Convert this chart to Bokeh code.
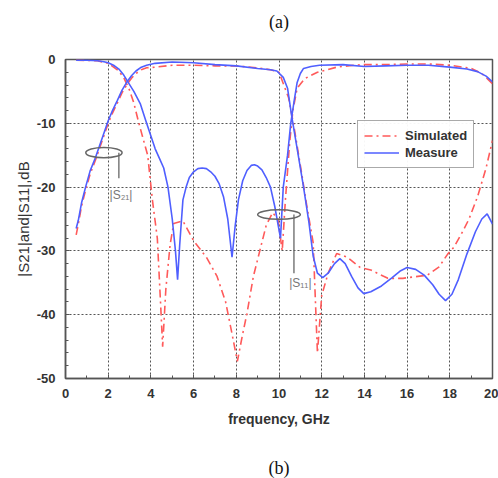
from bokeh.plotting import figure
from bokeh.models import Range1d, Legend, LegendItem, FixedTicker, Title
from bokeh.core.properties import value
from bokeh.embed import file_html
from bokeh.resources import INLINE

# ---- data ----
# |S21| measured
s21_meas_f = [0.5, 0.6, 0.75, 0.94, 1.15, 1.4, 1.7, 2.0, 2.2, 2.43, 2.65, 2.9, 3.1, 3.3, 3.55, 3.8, 4.2,
              5.0, 6.0, 7.0, 8.0, 9.0, 9.6, 9.9, 10.2, 10.4, 10.6, 10.9, 11.15, 11.4, 11.6, 11.8,
              12.05, 12.3, 12.6, 12.85, 13.1, 13.4, 13.7, 13.97, 14.3, 14.8, 15.3, 15.7, 16.0, 16.4,
              16.8, 17.2, 17.5, 17.8, 18.1, 18.4, 18.8, 19.2, 19.5, 19.75, 20.0]
s21_meas_db = [-26.5, -25.2, -22.5, -20.0, -17.5, -15.4, -12.5, -9.6, -8.0, -6.4, -4.8, -3.4, -2.5, -1.8, -1.2, -0.9, -0.6,
               -0.4, -0.5, -0.8, -1.0, -1.4, -1.6, -1.8, -2.8, -4.5, -9.0, -15.0, -20.0, -25.5, -30.8, -33.5,
               -34.2, -33.5, -32.0, -31.2, -32.0, -34.0, -35.8, -36.7, -36.4, -35.5, -34.2, -33.1, -32.6, -32.9,
               -33.8, -35.3, -36.8, -37.8, -36.8, -34.5, -30.5, -27.0, -25.0, -24.2, -25.8]
# |S21| simulated
s21_sim_f = [0.5, 0.6, 0.75, 0.94, 1.15, 1.4, 1.7, 2.0, 2.2, 2.43, 2.65, 2.9, 3.1, 3.3, 3.55, 3.8, 4.2,
             5.0, 6.0, 7.0, 8.0, 9.0, 9.6, 10.0, 10.45, 10.7, 11.0, 11.3, 11.6, 11.8, 12.0, 12.3, 12.7,
             13.2, 13.8, 14.3, 15.1, 15.8, 16.95, 17.5, 17.9, 18.2, 18.6, 18.9, 19.3, 19.7, 20.0]
s21_sim_db = [-27.5, -25.8, -23.0, -20.5, -18.0, -15.8, -12.9, -10.0, -8.4, -6.8, -5.2, -3.8, -2.9, -2.2, -1.6, -1.3, -1.2,
              -0.9, -0.9, -1.0, -1.0, -1.3, -1.6, -2.0, -6.0, -10.5, -16.6, -22.9, -28.7, -46.0, -37.0, -33.5, -30.4,
              -31.0, -32.6, -33.0, -34.3, -34.3, -33.8, -32.5, -30.5, -29.4, -27.0, -25.0, -21.5, -17.0, -12.7]
# |S11| measured
s11_meas_f = [0.5, 1.0, 1.5, 1.8, 2.0, 2.25, 2.5, 2.7, 2.9, 3.2, 3.5, 3.75, 4.0, 4.2, 4.4, 4.6, 4.8, 5.0,
              5.15, 5.25, 5.35, 5.5, 5.65, 5.8, 6.0, 6.2, 6.4, 6.6, 6.8, 7.0, 7.2, 7.4, 7.6, 7.8,
              7.95, 8.1, 8.3, 8.5, 8.7, 8.85, 9.0, 9.2, 9.4, 9.6, 9.8, 10.07, 10.2, 10.4, 10.55,
              10.7, 10.85, 11.0, 11.15, 11.5, 11.9, 13.0, 14.0, 15.0, 16.0, 17.0, 18.0, 18.8, 19.3, 19.7, 20.0]
s11_meas_db = [-0.1, -0.1, -0.2, -0.35, -0.5, -0.9, -1.5, -2.3, -3.4, -5.0, -6.9, -9.5, -12.0, -14.0, -15.5, -17.0, -20.0, -25.0,
               -30.0, -34.5, -29.0, -22.0, -20.0, -18.5, -17.6, -17.1, -17.0, -17.1, -17.6, -18.3, -19.5, -21.5, -25.0, -31.0,
               -26.0, -22.0, -19.0, -17.4, -16.6, -16.5, -16.7, -17.3, -18.5, -20.0, -23.0, -28.0, -20.0, -15.0, -10.0,
               -6.7, -3.6, -2.2, -1.4, -1.1, -0.9, -0.8, -1.1, -1.0, -0.9, -0.9, -1.2, -1.5, -1.9, -2.6, -3.5]
# |S11| simulated
s11_sim_f = [0.5, 1.5, 2.0, 2.5, 2.75, 3.0, 3.2, 3.4, 3.6, 3.85, 4.07, 4.3, 4.45, 4.55, 4.7, 4.9, 5.07, 5.5,
             6.0, 6.6, 7.1, 7.5, 7.8, 8.05, 8.3, 8.5, 8.8, 9.1, 9.4, 9.7, 9.95, 10.15, 10.3, 10.5, 10.65,
             10.85, 11.2, 11.8, 12.7, 13.5, 14.0, 15.0, 16.0, 17.0, 18.0, 19.0, 19.5, 20.0]
s11_sim_db = [-0.1, -0.2, -0.6, -1.8, -3.0, -4.8, -6.8, -9.5, -12.0, -15.0, -22.0, -28.0, -38.0, -45.0, -36.0, -29.0, -25.7, -25.3,
              -28.4, -31.0, -34.0, -38.0, -43.0, -47.3, -43.0, -39.8, -34.0, -30.0, -26.0, -24.0, -25.0, -30.0, -22.0, -13.0, -8.0,
              -4.5, -3.0, -2.0, -1.2, -0.9, -0.8, -0.8, -0.7, -0.7, -0.9, -1.4, -2.2, -3.8]

x_ticks = [0, 2, 4, 6, 8, 10, 12, 14, 16, 18, 20]
y_ticks = [-50, -40, -30, -20, -10, 0]
y_tick_labels = ["-50", "-40", "-30", "-20", "-10", "0"]
legend_labels = ["Simulated", "Measure"]

# annotation marks (ellipses + leader lines)
ell_x = [1.8, 10.0]
ell_y = [-14.6, -24.3]
ell_w = [1.7, 2.0]
ell_h = [1.6, 1.5]
lead_x = [2.5, 10.7]
lead_y0 = [-14.6, -24.3]
lead_y1 = [-18.6, -33.5]
ann_text = ["|S₂₁|", "|S₁₁|"]
ann_x = [2.6, 11.0]
ann_y = [-21.3, -35.0]

RED = "#ff5a5a"
BLUE = "#4f5fff"
FONT = "Liberation Sans"

p = figure(width=498, height=478, output_backend="svg", toolbar_location=None,
           x_range=Range1d(0, 20), y_range=Range1d(-50, 0),
           min_border_left=65, min_border_right=6, min_border_top=59, min_border_bottom=100)
p.background_fill_color = "white"
p.border_fill_color = "white"
p.outline_line_color = "#555555"
p.outline_line_width = 1.5

p.title.text = "(a)\n"
p.title.align = "center"
p.title.vertical_align = "top"
p.title.text_font = "Liberation Serif"
p.title.text_font_size = "18px"
p.title.text_font_style = "normal"
p.title.text_color = "#111111"
p.title.text_line_height = 1.3
p.title.standoff = 0

# grid
for g in (p.xgrid, p.ygrid):
    g.grid_line_color = "#555555"
    g.grid_line_dash = "2 2"
    g.grid_line_width = 1
p.xaxis.ticker = FixedTicker(ticks=x_ticks, minor_ticks=list(range(0, 21)))
p.yaxis.ticker = FixedTicker(ticks=y_ticks, minor_ticks=list(range(-50, 1, 2)))
p.yaxis.major_label_overrides = dict(zip(y_ticks, y_tick_labels))

for ax in (p.xaxis, p.yaxis):
    ax.major_tick_in = 4
    ax.major_tick_out = 0
    ax.minor_tick_in = 3
    ax.minor_tick_out = 0
    ax.axis_line_color = "#555555"
    ax.axis_line_width = 1.5
    ax.major_tick_line_color = "#555555"
    ax.minor_tick_line_color = "#555555"
    ax.major_label_text_font = FONT
    ax.major_label_text_font_style = "bold"
    ax.major_label_text_font_size = "13px"
    ax.major_label_text_color = "#333333"

p.xaxis.major_label_standoff = 10
p.yaxis.major_label_standoff = 10
p.xaxis.axis_label = "frequency, GHz"
p.xaxis.axis_label_text_font = FONT
p.xaxis.axis_label_text_font_style = "bold"
p.xaxis.axis_label_text_font_size = "14px"
p.xaxis.axis_label_text_color = "#333333"
p.xaxis.axis_label_standoff = 10

p.yaxis.axis_label = "|S21|and|S11|,dB"
p.yaxis.axis_label_text_font = FONT
p.yaxis.axis_label_text_font_style = "normal"
p.yaxis.axis_label_text_font_size = "15px"
p.yaxis.axis_label_text_color = "#333333"
p.yaxis.axis_label_standoff = 2

p.add_layout(Title(text="\n(b)", align="center", vertical_align="bottom", text_font="Liberation Serif",
                   text_font_size="18px", text_font_style="normal", text_color="#111111",
                   text_line_height=1.25, standoff=2), "below")

# curves
r_sim = p.line(s21_sim_f, s21_sim_db, line_color=RED, line_width=1.6, line_dash="8 4 2 4")
p.line(s11_sim_f, s11_sim_db, line_color=RED, line_width=1.6, line_dash="8 4 2 4")
r_meas = p.line(s21_meas_f, s21_meas_db, line_color=BLUE, line_width=1.6)
p.line(s11_meas_f, s11_meas_db, line_color=BLUE, line_width=1.6)

# annotations
p.ellipse(x=ell_x, y=ell_y, width=ell_w, height=ell_h, fill_alpha=0, line_color="#666666", line_width=1.5)
p.segment(x0=lead_x, y0=lead_y0, x1=lead_x, y1=lead_y1, line_color="#666666", line_width=1.3)
p.text(x=ann_x, y=ann_y, text=ann_text, text_font=value(FONT), text_font_size="12px",
       text_color="#777777", text_align="center", text_baseline="middle")

legend = Legend(items=[LegendItem(label=legend_labels[0], renderers=[r_sim]),
                       LegendItem(label=legend_labels[1], renderers=[r_meas])],
                location=(292, 210))
legend.border_line_color = "#555555"
legend.border_line_width = 1.5
legend.padding = 6
legend.spacing = 0
legend.margin = 0
legend.glyph_width = 35
legend.glyph_height = 17
legend.label_height = 17
legend.label_standoff = 6
legend.label_text_font = FONT
legend.label_text_font_style = "bold"
legend.label_text_font_size = "13px"
legend.label_text_color = "#333333"
legend.background_fill_color = "white"
p.add_layout(legend, "center")

open("out.html", "w").write(file_html(p, INLINE))
